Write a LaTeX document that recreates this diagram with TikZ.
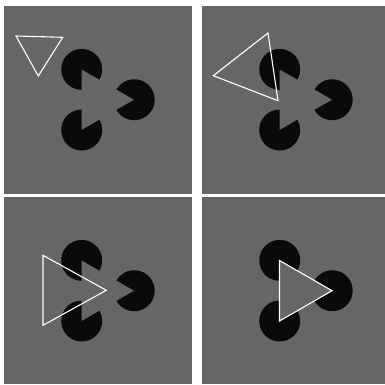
\documentclass[tikz,border=0pt]{standalone}
\usepackage{tikz}
\usetikzlibrary{calc}
\definecolor{cPanel}{HTML}{666666}
\definecolor{cInk}{HTML}{0A0A0A}
\tikzset{
  panel/.style={fill=cPanel},
  pac/.style={fill=cInk},
  tri/.style={draw=white,line width=1.1pt,line join=miter},
}

\begin{document}
\begin{tikzpicture}[x=1pt,y=1pt]
  \useasboundingbox (0,0) rectangle (385,384);
  \fill[white] (0,0) rectangle (385,384);
  % four panels
  \foreach \x/\y/\w/\h in {4/190/188/188, 202/190/183/188, 4/0/188/187, 202/0/183/187}{\fill[panel] (\x,\y) rectangle ++(\w,\h);}
  % inducers, mouths towards the centre
  \foreach \cx/\cy in {99.2/284.3, 297.2/284.3, 99.2/93.3, 297.2/93.3}{
    \foreach \a in {0,120,240}{
      \fill[pac] ($(\cx,\cy)+(\a:35)$) -- ++(\a-150:20.5) arc[start angle=\a-150,end angle=\a+150,radius=20.5] -- cycle;
    }
  }
  % outline triangles
  \draw[tri] (16,348) -- (62.7,346.7) -- (38.3,308) -- cycle;
  \draw[tri] (213.3,308.3) -- (268,351) -- (278,283.3) -- cycle;
  \draw[tri] (43,128.7) -- (43,58.7) -- (106.3,93.7) -- cycle;
  \draw[tri] (279.5,123.5) -- (279.5,63) -- (332,93.3) -- cycle;
\end{tikzpicture}
\end{document}
